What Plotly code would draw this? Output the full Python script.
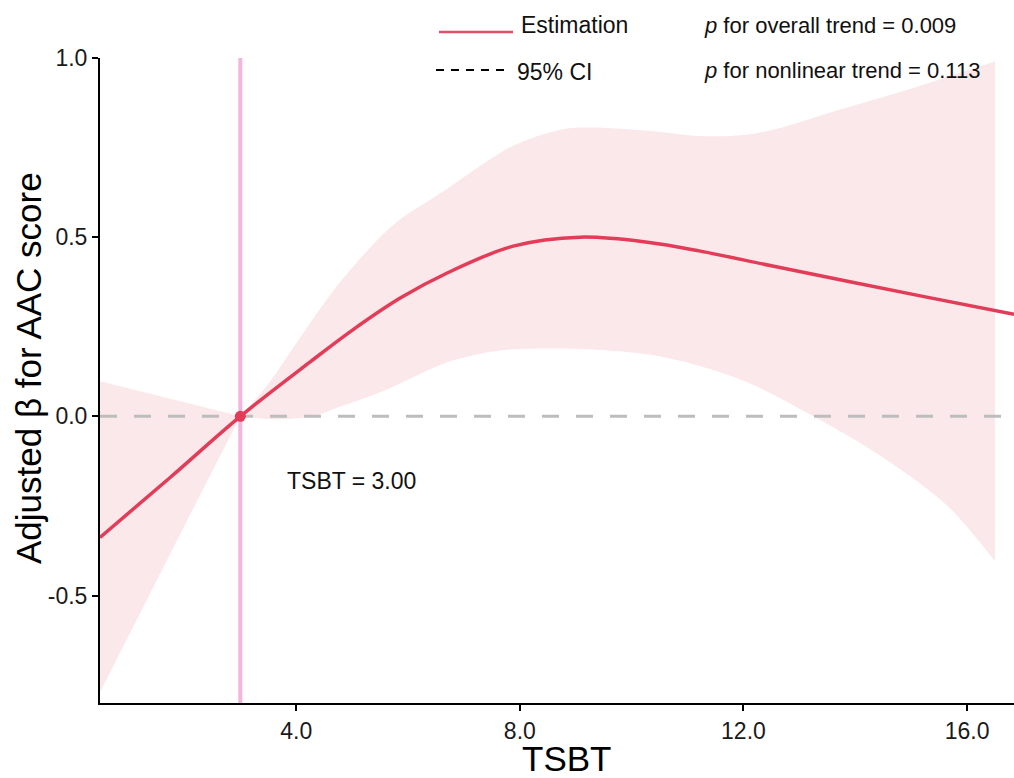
import plotly.graph_objects as go

# ---- data ----
est_x = [0.49, 1.75, 3.0, 4.25, 5.0, 5.86, 6.70, 7.88, 9.08, 10.28, 11.23, 12.5, 13.86, 15.3, 16.84]
est_y = [-0.338, -0.170, 0.0, 0.152, 0.240, 0.330, 0.400, 0.475, 0.500, 0.486, 0.461, 0.420, 0.377, 0.332, 0.285]

# CI left of the reference point (straight segments)
left_upper_x = [0.49, 3.0]
left_upper_y = [0.098, 0.0]
left_lower_x = [0.49, 1.69, 2.05, 3.0]
left_lower_y = [-0.77, -0.40, -0.29, 0.0]

# CI right of the reference point
upper_x = [3.0, 3.5, 4.07, 4.66, 5.2, 5.5, 5.86, 6.3, 6.70, 7.3, 7.88, 8.85, 10.28, 11.23, 12.0, 12.66, 13.6, 14.7, 15.6, 16.5]
upper_y = [0.0, 0.09, 0.22, 0.35, 0.45, 0.50, 0.55, 0.595, 0.635, 0.70, 0.755, 0.803, 0.797, 0.782, 0.785, 0.805, 0.85, 0.90, 0.945, 0.99]
lower_x = [3.0, 3.7, 4.3, 4.66, 5.5, 6.1, 6.70, 7.3, 7.88, 9.08, 10.28, 11.23, 12.07, 13.25, 14.45, 15.65, 16.5]
lower_y = [0.0, -0.008, 0.0, 0.02, 0.067, 0.11, 0.151, 0.175, 0.187, 0.188, 0.173, 0.140, 0.095, 0.0, -0.11, -0.25, -0.405]

ref_x = 3.0
ref_y = 0.0
ref_label = "TSBT = 3.00"

x_range = [0.49, 16.84]
y_range = [-0.80, 1.0]
x_tickvals = [4, 8, 12, 16]
x_ticktext = ["4.0", "8.0", "12.0", "16.0"]
y_tickvals = [-0.5, 0.0, 0.5, 1.0]
y_ticktext = ["-0.5", "0.0", "0.5", "1.0"]

p_overall = "0.009"
p_nonlinear = "0.113"

# ---- styles ----
FONT = "Liberation Sans, Arial, sans-serif"
RED = "#E23C58"
BAND = "#FBE8EA"
VLINE = "#F2B6DC"
ZERO = "#BDBDBD"

fig = go.Figure()

# CI band, left part (polygon)
fig.add_trace(go.Scatter(
    x=left_upper_x + left_lower_x[::-1],
    y=left_upper_y + left_lower_y[::-1],
    fill="toself", fillcolor=BAND, line=dict(width=0),
    mode="lines", hoverinfo="skip", showlegend=False,
))
# CI band, right part (lower then upper filled to it)
fig.add_trace(go.Scatter(
    x=lower_x, y=lower_y, mode="lines",
    line=dict(width=0, color=BAND, shape="spline", smoothing=0.9),
    hoverinfo="skip", showlegend=False,
))
fig.add_trace(go.Scatter(
    x=upper_x, y=upper_y, mode="lines", fill="tonexty", fillcolor=BAND,
    line=dict(width=0, color=BAND, shape="spline", smoothing=0.9),
    hoverinfo="skip", showlegend=False,
))

# zero reference line
fig.add_trace(go.Scatter(
    x=x_range, y=[0, 0], mode="lines",
    line=dict(color=ZERO, width=3, dash="17px,17px"),
    hoverinfo="skip", showlegend=False,
))

# vertical reference line
fig.add_trace(go.Scatter(
    x=[ref_x, ref_x], y=y_range, mode="lines",
    line=dict(color=VLINE, width=4),
    hoverinfo="skip", showlegend=False,
))

# estimation curve
fig.add_trace(go.Scatter(
    x=est_x, y=est_y, mode="lines",
    line=dict(color=RED, width=3.5, shape="spline", smoothing=1.0),
    showlegend=False,
))

# reference point
fig.add_trace(go.Scatter(
    x=[ref_x], y=[ref_y], mode="markers",
    marker=dict(color=RED, size=11),
    showlegend=False,
))

# custom legend (paper coords; plot area 100..1014 x, 58..703 y)
def px_x(p):
    return (p - 100) / 914.0

def px_y(p):
    return (703 - p) / 645.0

fig.add_shape(type="line", xref="paper", yref="paper",
              x0=px_x(439), x1=px_x(513), y0=px_y(32), y1=px_y(32),
              line=dict(color="#E0506A", width=2.5))
fig.add_shape(type="line", xref="paper", yref="paper",
              x0=px_x(436), x1=px_x(511), y0=px_y(70), y1=px_y(70),
              line=dict(color="black", width=2, dash="8px,7px"))

ann_font = dict(family=FONT, size=23, color="#111111")
p_font = dict(family=FONT, size=22, color="#111111")
fig.add_annotation(xref="paper", yref="paper", x=px_x(519), y=px_y(25),
                   text="Estimation", showarrow=False, xanchor="left", yanchor="middle", font=ann_font)
fig.add_annotation(xref="paper", yref="paper", x=px_x(515), y=px_y(72),
                   text="95% CI", showarrow=False, xanchor="left", yanchor="middle", font=ann_font)
fig.add_annotation(xref="paper", yref="paper", x=px_x(702), y=px_y(25),
                   text="<i>p</i> for overall trend = " + p_overall, showarrow=False,
                   xanchor="left", yanchor="middle", font=p_font)
fig.add_annotation(xref="paper", yref="paper", x=px_x(702), y=px_y(70),
                   text="<i>p</i> for nonlinear trend = " + p_nonlinear, showarrow=False,
                   xanchor="left", yanchor="middle", font=p_font)
fig.add_annotation(xref="x", yref="y", x=4 + (285 - 296) / 55.9, y=(417 - 482) / 358.0,
                   text=ref_label, showarrow=False, xanchor="left", yanchor="middle", font=ann_font)

# axis titles
fig.add_annotation(xref="paper", yref="paper", x=px_x(566), y=px_y(759),
                   text="TSBT", showarrow=False, xanchor="center", yanchor="middle",
                   font=dict(family=FONT, size=35, color="black"))
fig.add_annotation(xref="paper", yref="paper", x=px_x(28), y=px_y(368),
                   text="Adjusted β for AAC score", showarrow=False, textangle=-90,
                   xanchor="center", yanchor="middle",
                   font=dict(family=FONT, size=35, color="black"))

fig.update_layout(
    width=1014, height=778,
    margin=dict(l=100, r=0, t=58, b=75, autoexpand=False),
    paper_bgcolor="white", plot_bgcolor="white",
    font=dict(family=FONT, size=23, color="#111111"),
    xaxis=dict(
        range=x_range, tickvals=x_tickvals, ticktext=x_ticktext, automargin=False,
        showgrid=False, zeroline=False, showline=True, linecolor="black", linewidth=2,
        ticks="outside", ticklen=6, tickwidth=1.5, tickcolor="black",
        tickfont=dict(family=FONT, size=23, color="#1A1A1A"),
    ),
    yaxis=dict(
        range=y_range, tickvals=y_tickvals, ticktext=y_ticktext, automargin=False,
        showgrid=False, zeroline=False, showline=True, linecolor="black", linewidth=2,
        ticks="outside", ticklen=6, tickwidth=1.5, tickcolor="black",
        tickfont=dict(family=FONT, size=23, color="#1A1A1A"),
    ),
)

fig.write_html(
    "out.html",
    config={"displayModeBar": False},
    post_script="document.body.style.margin='0';document.body.style.overflow='hidden';",
)
